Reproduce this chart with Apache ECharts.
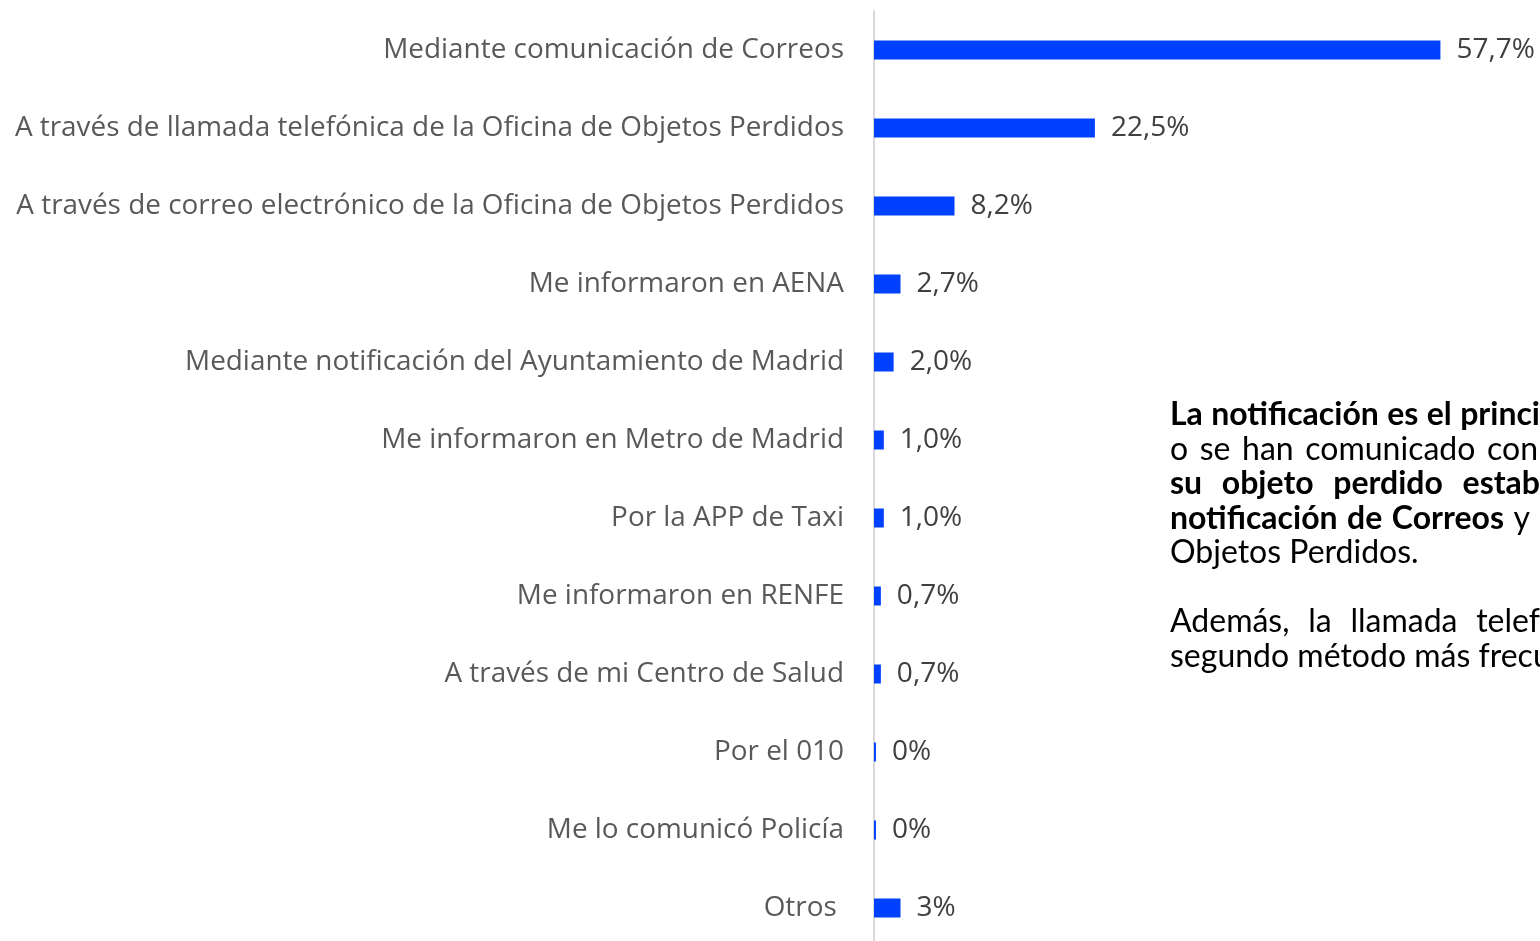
<!DOCTYPE html>
<html>
<head>
<meta charset="utf-8">
<script src="https://cdn.jsdelivr.net/npm/echarts@6/dist/echarts.min.js"></script>
<style>
  html, body { margin: 0; padding: 0; background: #fff; overflow: hidden; }
  #chart { width: 1540px; height: 941px; }
</style>
</head>
<body>
<div id="chart"></div>
<script>
// categorias (de arriba a abajo)
var categories = [
    'Mediante comunicación de Correos',
    'A través de llamada telefónica de la Oficina de Objetos Perdidos',
    'A través de correo electrónico de la Oficina de Objetos Perdidos',
    'Me informaron en AENA',
    'Mediante notificación del Ayuntamiento de Madrid',
    'Me informaron en Metro de Madrid',
    'Por la APP de Taxi',
    'Me informaron en RENFE',
    'A través de mi Centro de Salud',
    'Por el 010',
    'Me lo comunicó Policía',
    'Otros '
];
var values = [57.7, 22.5, 8.2, 2.7, 2.0, 1.0, 1.0, 0.7, 0.7, 0.2, 0.2, 2.7];
// etiquetas tal como aparecen
var valueLabels = ['57,7%', '22,5%', '8,2%', '2,7%', '2,0%', '1,0%', '1,0%', '0,7%', '0,7%', '0%', '0%', '3%'];

// texto de la derecha: [palabra, negrita], right = hasta donde se justifica
var noteLines = [
    { words: [['La', 1], ['notificación', 1], ['es', 1], ['el', 1], ['princi', 1]], right: 1540 },
    { words: [['o', 0], ['se', 0], ['han', 0], ['comunicado', 0], ['con', 0]], right: 1538 },
    { words: [['su', 1], ['objeto', 1], ['perdido', 1], ['estab', 1]], right: 1540 },
    { words: [['notificación', 1], ['de', 1], ['Correos', 1], ['y', 0]], right: 1530 },
    { words: [['Objetos', 0], ['Perdidos.', 0]], right: 0 },
    null,
    { words: [['Además,', 0], ['la', 0], ['llamada', 0], ['telef', 0]], right: 1540 },
    { words: [['segundo', 0], ['método', 0], ['más', 0], ['frecu', 0]], right: 1540 }
];

var noteLeft = 1170, noteTop = 415, noteLineH = 34.5, noteSize = 32;

function buildNote() {
    var ctx = document.createElement('canvas').getContext('2d');
    var els = [];
    noteLines.forEach(function (line, i) {
        if (!line) return;
        var y = noteTop + i * noteLineH;
        var widths = line.words.map(function (w) {
            ctx.font = (w[1] ? 'bold ' : '') + noteSize + 'px Lato';
            return ctx.measureText(w[0]).width;
        });
        ctx.font = noteSize + 'px Lato';
        var space = ctx.measureText(' ').width;
        var total = widths.reduce(function (a, b) { return a + b; }, 0);
        if (line.right && line.words.length > 1) {
            var s = (line.right - noteLeft - total) / (line.words.length - 1);
            if (s > space) space = s;
        }
        var x = noteLeft;
        line.words.forEach(function (w, k) {
            els.push({
                type: 'text',
                x: x,
                y: y,
                style: {
                    text: w[0],
                    font: (w[1] ? 'bold ' : '') + noteSize + 'px Lato',
                    fill: '#000000',
                    verticalAlign: 'middle'
                }
            });
            x += widths[k] + space;
        });
    });
    return els;
}

var option = {
    animation: false,
    backgroundColor: '#ffffff',
    grid: {
        left: 874,
        right: 77,
        top: 11,
        height: 936,
        outerBoundsMode: 'none'
    },
    xAxis: {
        type: 'value',
        min: 0,
        max: 60,
        show: false
    },
    yAxis: {
        type: 'category',
        inverse: true,
        data: categories,
        axisLine: { show: true, lineStyle: { color: '#d9d9d9', width: 2 } },
        axisTick: { show: false },
        axisLabel: {
            margin: 30,
            fontSize: 27.9,
            fontFamily: 'Open Sans',
            color: '#595959',
            padding: [4, 0, 0, 0]
        }
    },
    series: [
        {
            type: 'bar',
            data: values,
            barWidth: 19,
            itemStyle: { color: '#0040ff' },
            label: {
                show: true,
                position: 'right',
                distance: 16,
                fontSize: 28,
                fontFamily: 'Open Sans',
                color: '#404040',
                padding: [4, 0, 0, 0],
                formatter: function (p) { return valueLabels[p.dataIndex]; }
            }
        }
    ],
    graphic: buildNote()
};

var myChart = echarts.init(document.getElementById('chart'));
myChart.setOption(option);
</script>
</body>
</html>
